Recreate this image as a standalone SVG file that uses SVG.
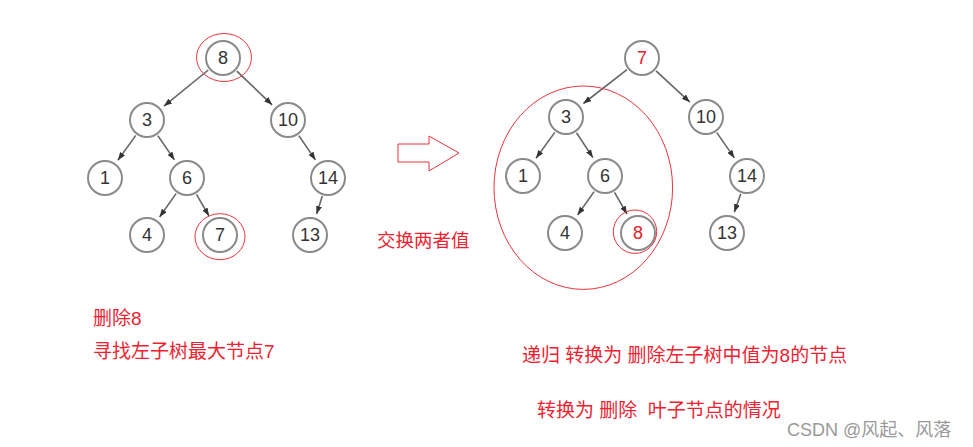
<svg xmlns="http://www.w3.org/2000/svg" width="973" height="447" viewBox="0 0 973 447">
<style>
.node circle{fill:#fff;stroke:#8a8a8a;stroke-width:2}
.node text{font-family:"Liberation Sans",Arial,sans-serif;font-size:18px;fill:#333;text-anchor:middle;dominant-baseline:central}
.node text.red{fill:#e8202a}
.edges line{stroke:#666;stroke-width:1.6;marker-end:url(#ah)}
.hl{fill:none;stroke:#e8353d;stroke-width:1}
.note{font-family:"Liberation Sans","Noto Sans CJK SC",sans-serif;font-size:19px;fill:#ee2230;white-space:pre}
</style>
<defs>
<marker id="ah" viewBox="0 0 8 6" refX="8" refY="3" markerWidth="8" markerHeight="6" markerUnits="userSpaceOnUse" orient="auto">
<path d="M0,0 L8,3 L0,6 z" fill="#333"/>
</marker>
</defs>
<rect width="973" height="447" fill="#fff"/>

<g class="edges" id="connectors">
<line x1="208.3" y1="70" x2="164" y2="106.1"/>
<line x1="236.8" y1="71.1" x2="272.1" y2="104.8"/>
<line x1="135.8" y1="135.4" x2="117.9" y2="160.2"/>
<line x1="157.8" y1="135.6" x2="174.5" y2="159.9"/>
<line x1="298.8" y1="135.6" x2="315.5" y2="159.9"/>
<line x1="176.1" y1="193.6" x2="159.6" y2="217"/>
<line x1="196.5" y1="194.4" x2="209" y2="216"/>
<line x1="322.3" y1="196.1" x2="316.6" y2="214"/>
<line x1="627" y1="69.6" x2="583.4" y2="103.5"/>
<line x1="656" y1="70.9" x2="689.8" y2="102.1"/>
<line x1="554.8" y1="132.4" x2="536" y2="158.2"/>
<line x1="576.5" y1="132.8" x2="592.9" y2="157.6"/>
<line x1="716.8" y1="132.6" x2="734.4" y2="157.9"/>
<line x1="594.1" y1="191.6" x2="577.6" y2="215"/>
<line x1="614.5" y1="192.4" x2="627" y2="214"/>
<line x1="740.7" y1="193.9" x2="734.3" y2="212.2"/>
</g>

<g id="L8" class="node"><circle cx="223" cy="58" r="17"/><text x="223" y="58">8</text></g>
<g id="L3" class="node"><circle cx="147" cy="120" r="17"/><text x="147" y="120">3</text></g>
<g id="L10" class="node"><circle cx="288" cy="120" r="17"/><text x="288" y="120">10</text></g>
<g id="L1" class="node"><circle cx="105" cy="178" r="17"/><text x="105" y="178">1</text></g>
<g id="L6" class="node"><circle cx="187" cy="178" r="17"/><text x="187" y="178">6</text></g>
<g id="L14" class="node"><circle cx="328" cy="178" r="17"/><text x="328" y="178">14</text></g>
<g id="L4" class="node"><circle cx="147" cy="235" r="17"/><text x="147" y="235">4</text></g>
<g id="L7" class="node"><circle cx="220" cy="235" r="17"/><text x="220" y="235">7</text></g>
<g id="L13" class="node"><circle cx="310" cy="235" r="17"/><text x="310" y="235">13</text></g>

<g id="R7" class="node"><circle cx="642" cy="58" r="17"/><text class="red" x="642" y="58">7</text></g>
<g id="R3" class="node"><circle cx="566" cy="117" r="17"/><text x="566" y="117">3</text></g>
<g id="R10" class="node"><circle cx="706" cy="117" r="17"/><text x="706" y="117">10</text></g>
<g id="R1" class="node"><circle cx="523" cy="176" r="17"/><text x="523" y="176">1</text></g>
<g id="R6" class="node"><circle cx="605" cy="176" r="17"/><text x="605" y="176">6</text></g>
<g id="R14" class="node"><circle cx="747" cy="176" r="17"/><text x="747" y="176">14</text></g>
<g id="R4" class="node"><circle cx="565" cy="233" r="17"/><text x="565" y="233">4</text></g>
<g id="R8" class="node"><circle cx="638" cy="233" r="17"/><text class="red" x="638" y="233">8</text></g>
<g id="R13" class="node"><circle cx="727" cy="233" r="17"/><text x="727" y="233">13</text></g>

<g id="highlights">
<ellipse class="hl" cx="224" cy="57.5" rx="27.5" ry="24"/>
<ellipse class="hl" cx="220" cy="236.7" rx="25" ry="23"/>
<ellipse class="hl" cx="635" cy="231.7" rx="21.7" ry="21.7"/>
<ellipse class="hl" cx="583.3" cy="187.7" rx="89.3" ry="101.7"/>
</g>

<g id="big-arrow">
<polygon points="398,144 429,144 429,136 459,153 429,171 429,162 398,162" fill="#fff" stroke="#e8353d" stroke-width="1"/>
</g>

<g id="notes">
<text class="note" x="377" y="247" style="font-size:18.5px">交换两者值</text>
<text class="note" x="93" y="325">删除8</text>
<text class="note" x="93" y="358">寻找左子树最大节点7</text>
<text class="note" x="522" y="362">递归 转换为 删除左子树中值为8的节点</text>
<text class="note" x="537" y="417">转换为 删除  叶子节点的情况</text>
<text x="787" y="436" font-family="Liberation Sans,Noto Sans CJK SC,sans-serif" font-size="18" fill="#999">CSDN @风起、风落</text>
</g>
</svg>
